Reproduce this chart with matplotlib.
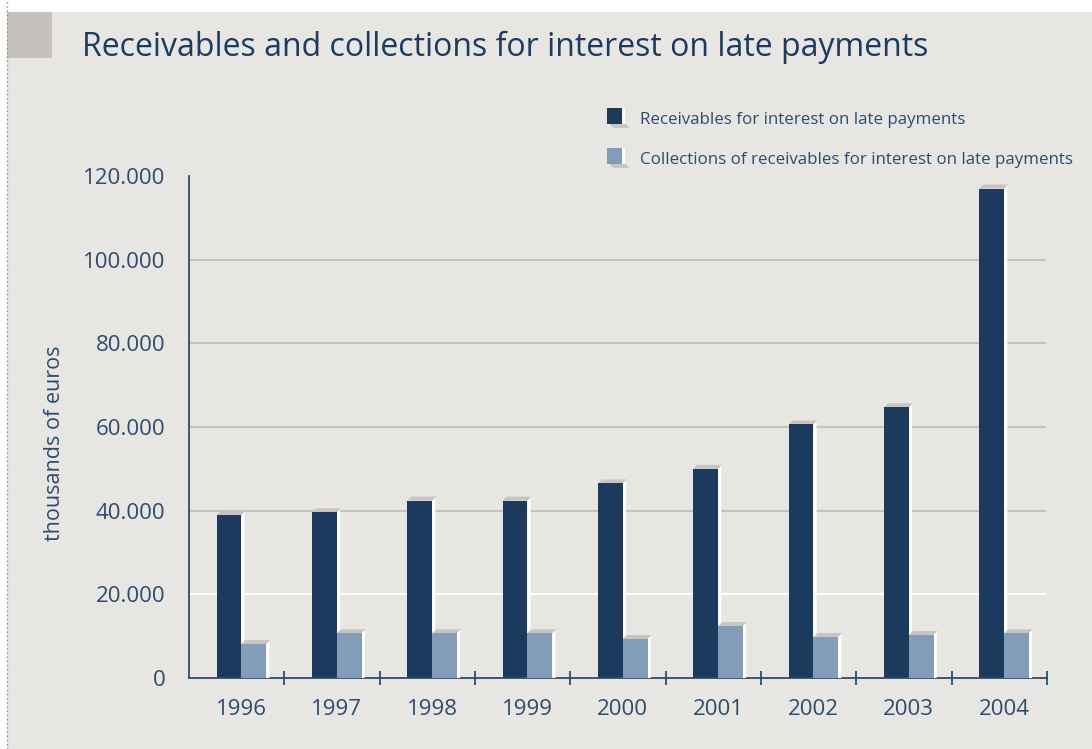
import matplotlib
matplotlib.use("Agg")
import matplotlib.pyplot as plt
from matplotlib.patches import Rectangle, Polygon
from matplotlib.lines import Line2D

plt.rcParams['font.family'] = ['Open Sans', 'DejaVu Sans']

years = ["1996", "1997", "1998", "1999", "2000", "2001", "2002", "2003", "2004"]
receivables = [38900, 39600, 42400, 42400, 46500, 50000, 60600, 64700, 117000]
collections = [8100, 10700, 10700, 10700, 9300, 12400, 9800, 10300, 10700]
series_names = ["Receivables for interest on late payments",
                "Collections of receivables for interest on late payments"]
yticks = [0, 20000, 40000, 60000, 80000, 100000, 120000]
ytick_labels = ["0", "20.000", "40.000", "60.000", "80.000", "100.000", "120.000"]

W, H = 1092, 749
BG = "#E7E6E3"
DARK = "#1B3A5E"
LIGHT = "#829CBA"
TOPFACE = "#C9C4BD"
TEXT = "#2E4B6E"
GRID = "#C5C3C0"

fig = plt.figure(figsize=(W / 100, H / 100), dpi=100, facecolor="white")

def fx(px):
    return px / W

def fy(py):
    return 1 - py / H

# page background, marker square and dotted margin
fig.add_artist(Rectangle((fx(7), 0), 1 - fx(7), fy(12), transform=fig.transFigure,
                         facecolor=BG, edgecolor="none", zorder=0))
fig.add_artist(Rectangle((fx(7), fy(58)), fx(45), fy(12) - fy(58), transform=fig.transFigure,
                         facecolor="#C6C1BC", edgecolor="none", zorder=1))
fig.add_artist(Line2D([fx(6.5), fx(6.5)], [0, 1], transform=fig.transFigure,
                      color="#8A8A8A", lw=1, linestyle=(0, (1, 2)), zorder=1))

fig.text(fx(82), fy(47), "Receivables and collections for interest on late payments",
         fontsize=23, color="#1D3A5F", va="center", ha="left")

ax = fig.add_axes([fx(189), fy(678), fx(1047) - fx(189), fy(176) - fy(678)])
ax.set_facecolor("none")
ax.set_xlim(-0.55, 8.45)
ax.set_ylim(0, 120000)

for s in ["top", "right"]:
    ax.spines[s].set_visible(False)
for s in ["left", "bottom"]:
    ax.spines[s].set_color(TEXT)
    ax.spines[s].set_linewidth(1.3)

# gridlines: white at the first level, grey above
for v in yticks[1:-1]:
    ax.axhline(v, xmin=0, xmax=0.998, color="white" if v == 20000 else GRID,
               lw=1.5, zorder=0.5)

ax.set_yticks(yticks)
ax.set_yticklabels(ytick_labels)
ax.tick_params(axis="y", length=0, pad=17, labelsize=16, labelcolor=TEXT)

ax.set_xticks(range(len(years)))
ax.set_xticklabels(years)
ax.tick_params(axis="x", which="major", length=0, pad=15, labelsize=16, labelcolor=TEXT)
ax.set_xticks([i + 0.45 for i in range(len(years))], minor=True)
ax.tick_params(axis="x", which="minor", direction="inout", length=10, width=1.3, color=TEXT)

bw = 0.26
# depth offsets for the bevel: a few pixels to the right and up
dx = 4 / 95.3
dy = 4 * 120000 / 502


def bar3d(x0, h, color, z):
    x1 = x0 + bw
    ax.add_patch(Polygon([(x1, 0), (x1 + dx * 0.8, 0), (x1 + dx * 0.8, h + dy), (x1, h)],
                         closed=True, facecolor="white", edgecolor="none", zorder=z))
    ax.add_patch(Polygon([(x0, h), (x1, h), (x1 + dx, h + dy), (x0 + dx, h + dy)],
                         closed=True, facecolor=TOPFACE, edgecolor="none", zorder=z))
    ax.add_patch(Rectangle((x0, 0), bw, h, facecolor=color, edgecolor="none", zorder=z + 0.1))


for i, (r, c) in enumerate(zip(receivables, collections)):
    bar3d(i - bw, r, DARK, 2)
    bar3d(i, c, LIGHT, 3)

# legend
for k, (name, col) in enumerate(zip(series_names, [DARK, LIGHT])):
    top = 108 + 40 * k
    x0 = 607
    fig.add_artist(Polygon([(fx(x0 + 3), fy(top + 16)), (fx(x0 + 19), fy(top + 16)),
                            (fx(x0 + 22), fy(top + 20)), (fx(x0 + 6), fy(top + 20))],
                           closed=True, transform=fig.transFigure,
                           facecolor=TOPFACE, edgecolor="none", zorder=2))
    fig.add_artist(Rectangle((fx(x0 + 15), fy(top + 16)), fx(3), fy(top) - fy(top + 16),
                             transform=fig.transFigure, facecolor="white",
                             edgecolor="none", zorder=2))
    fig.add_artist(Rectangle((fx(x0), fy(top + 16)), fx(15), fy(top) - fy(top + 16),
                             transform=fig.transFigure, facecolor=col,
                             edgecolor="none", zorder=3))
    fig.text(fx(640), fy(top + 11.5), name, fontsize=12.2, color=TEXT, va="center", ha="left")

fig.text(fx(55), fy(443), "thousands of euros", rotation=90, fontsize=15.5,
         color=TEXT, va="center", ha="center")

fig.savefig("out.png", dpi=100, facecolor=fig.get_facecolor())
